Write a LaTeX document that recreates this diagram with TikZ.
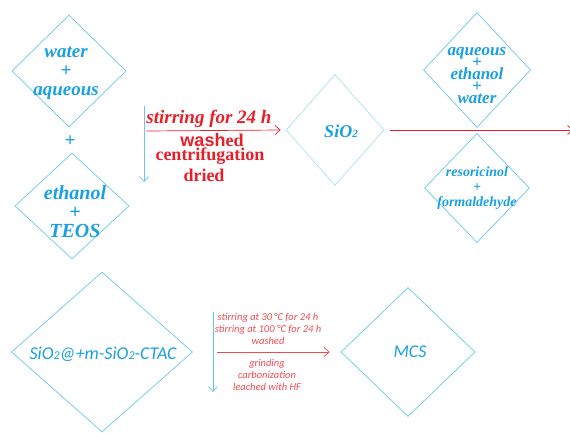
\documentclass[tikz,border=0pt]{standalone}
\usepackage{fontspec}
\setmainfont{Liberation Serif}
\newfontfamily\tnr{Liberation Serif}
\newfontfamily\calib{Carlito}
\newfontfamily\arialf{Liberation Sans}
\usetikzlibrary{shapes.geometric,arrows.meta}
\definecolor{txtblue}{RGB}{25,160,225}
\definecolor{lineblue}{RGB}{105,200,232}
\definecolor{paleblue}{RGB}{170,225,242}
\definecolor{myred}{RGB}{232,30,40}
\definecolor{lightred}{RGB}{240,75,80}
\newcommand\tightlines{\lineskiplimit=-100pt\relax}
\begin{document}
\begin{tikzpicture}[x=1pt,y=-1pt,
  dia/.style={draw=lineblue, line width=0.7pt, diamond, inner sep=0pt},
  btxt/.style={text=txtblue, align=center, inner sep=0pt},
  rtxt/.style={text=myred, align=center, inner sep=0pt},
  srtxt/.style={text=lightred, align=center, inner sep=0pt, font=\calib\itshape\fontsize{10.5}{12}\selectfont},
  barrow/.style={draw=lineblue, line width=0.7pt, -{Straight Barb[length=5pt,width=9pt]}},
  rarrow/.style={draw=myred, line width=0.7pt, -{Straight Barb[length=5pt,width=9pt]}},
  lrarrow/.style={draw=lightred, line width=0.7pt, -{Straight Barb[length=5pt,width=9pt]}}]
\clip (0,0) rectangle (570,432);
\useasboundingbox (0,0) rectangle (570,432);

% diamonds
\node[dia, minimum width=114pt, minimum height=112pt] (d1) at (69,71) {};
\node[dia, minimum width=114pt, minimum height=106pt] (d2) at (72,206) {};
\node[dia, draw=paleblue, minimum width=98pt, minimum height=111pt] (d3) at (335,130) {};
\node[dia, minimum width=107pt, minimum height=115pt] (d4) at (477,70) {};
\node[dia, minimum width=105pt, minimum height=109pt] (d5) at (477,188) {};
\node[dia, minimum width=181pt, minimum height=160pt] (d6) at (102,352) {};
\node[dia, minimum width=134pt, minimum height=129pt] (d7) at (408,352) {};

% texts in diamonds
\node[btxt, font=\tnr\bfseries\itshape\fontsize{19}{19}\selectfont] (t1) at (66,73) {water\\+\\aqueous};
\node[btxt, font=\tnr\bfseries\itshape\fontsize{19}{19}\selectfont] (plus) at (70,141) {+};
\node[btxt, font=\tnr\bfseries\itshape\fontsize{20}{19}\selectfont] (t2) at (75,212) {ethanol\\+\\TEOS};
\node[btxt, font=\tnr\bfseries\itshape\fontsize{18}{18}\selectfont] (t3) at (341,131) {SiO{\fontsize{11}{11}\selectfont 2}};
\node[btxt, font=\tnr\bfseries\itshape\fontsize{17}{12}\selectfont\tightlines] (t4) at (477,76) {aqueous\\+\\ethanol\\+\\water};
\node[btxt, font=\tnr\bfseries\itshape\fontsize{14}{15}\selectfont\tightlines] (t5) at (477,188) {resoricinol\\+\\formaldehyde};
\node[btxt, font=\calib\itshape\fontsize{18}{18}\selectfont] (t6) at (103,354) {SiO{\fontsize{12}{12}\selectfont 2}@+m-SiO{\fontsize{12}{12}\selectfont 2}-CTAC};
\node[btxt, font=\calib\itshape\fontsize{18}{18}\selectfont] (t7) at (410,352) {MCS};

% top process
\coordinate (v1s) at (144,106);
\coordinate (v1e) at (144,182);
\draw[barrow] (v1s) -- (v1e);
\coordinate (r1s) at (146,131);
\draw[rarrow] (r1s) -- ([xshift=-5pt]d3.west);
\node[rtxt, font=\tnr\bfseries\itshape\fontsize{19}{19}\selectfont] (s1) at (209,119) {stirring for 24 h};
\node[rtxt, font=\tnr\bfseries\fontsize{18}{18}\selectfont] (s2) at (212,140) {{\arialf wash}ed};
\node[rtxt, font=\tnr\bfseries\fontsize{18}{18}\selectfont] (s3) at (210,156) {centrifugation};
\node[rtxt, font=\tnr\bfseries\fontsize{18}{18}\selectfont] (s4) at (204,175) {dried};
\coordinate (r2e) at (573,130);
\draw[rarrow] ([xshift=6pt]d3.east) -- (r2e);

% bottom process
\coordinate (v2s) at (213,312);
\coordinate (v2e) at (213,392);
\draw[barrow] (v2s) -- (v2e);
\coordinate (r3s) at (217,352);
\draw[lrarrow] (r3s) -- ([xshift=-11pt]d7.west);
\node[srtxt] (b1) at (268,329) {stirring at 30\,°C for 24 h\\stirring at 100 °C for 24 h\\washed};
\node[srtxt] (b2) at (267,375) {grinding\\carbonization\\leached with HF};
\end{tikzpicture}
\end{document}
